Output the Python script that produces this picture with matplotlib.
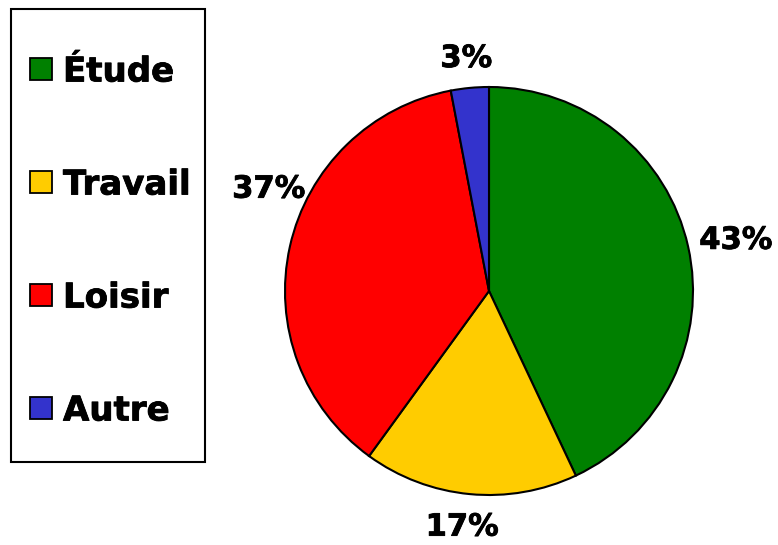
import matplotlib
matplotlib.use("Agg")
import matplotlib.pyplot as plt
from matplotlib.patches import Rectangle
import matplotlib.patheffects as pe
import numpy as np

categories = ["Étude", "Travail", "Loisir", "Autre"]
values = [43, 17, 37, 3]
pct_labels = ["43%", "17%", "37%", "3%"]
colors = ["#008000", "#FFCC00", "#FF0000", "#3333CC"]

# label placement styles (radius factor, angle shift in degrees)
label_radius = [1.235, 1.165, 1.19, 1.145]
label_shift = [-1.0, -1.1, -12.2, 0.2]

W, H = 778, 545
fig = plt.figure(figsize=(W / 100, H / 100), dpi=100)
fig.patch.set_facecolor("white")
heavy = [pe.withStroke(linewidth=0.6, foreground="black")]

cx, cy, r = 489, 291, 204
ax = fig.add_axes([(cx - r) / W, (H - cy - r) / H, 2 * r / W, 2 * r / H])
wedges, _ = ax.pie(values, colors=colors, startangle=90, counterclock=False,
                   radius=1.0,
                   wedgeprops=dict(edgecolor="black", linewidth=1.5))
ax.set_xlim(-1, 1)
ax.set_ylim(-1, 1)
ax.set_aspect("equal")
ax.axis("off")

for w, lab, rr, sh in zip(wedges, pct_labels, label_radius, label_shift):
    mid = np.deg2rad((w.theta1 + w.theta2) / 2 + sh)
    ax.text(rr * np.cos(mid), rr * np.sin(mid), lab, ha="center", va="center",
            fontsize=22, fontweight="bold", family="DejaVu Sans",
            clip_on=False, path_effects=heavy)

# legend (drawn in pixel-based figure coordinates)
def fx(px):
    return px / W

def fy(py):
    return 1 - py / H

frame = Rectangle((fx(11), fy(462)), fx(205) - fx(11), fy(9) - fy(462),
                  transform=fig.transFigure, facecolor="white",
                  edgecolor="black", linewidth=1.5, zorder=0)
fig.patches.append(frame)
row0, row_step, box = 69, 113, 22
for i, (cat, col) in enumerate(zip(categories, colors)):
    yc = row0 + row_step * i
    fig.patches.append(Rectangle((fx(30), fy(yc + box / 2)), box / W, box / H,
                                 transform=fig.transFigure, facecolor=col,
                                 edgecolor="black", linewidth=1.3))
    fig.text(fx(63), fy(yc + 12.5), cat, ha="left", va="baseline",
             fontsize=24.5, fontweight="bold", family="DejaVu Sans",
             path_effects=heavy)

fig.savefig("out.png", dpi=100)
